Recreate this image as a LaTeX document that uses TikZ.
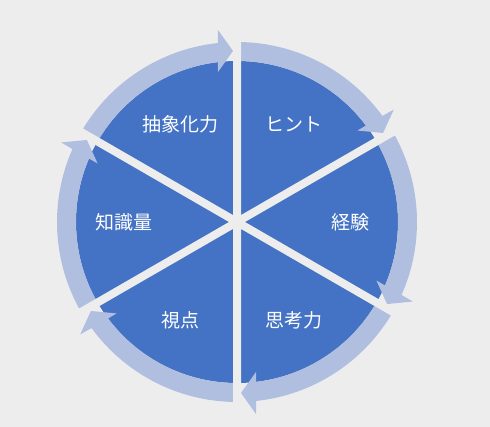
\documentclass[tikz,border=0pt]{standalone}
\usepackage{fontspec}
\usepackage{tikz}
\usetikzlibrary{calc}
\newfontfamily\jpfont{Noto Sans CJK JP}
\definecolor{bgGray}{HTML}{EDEDED}
\definecolor{pieBlue}{HTML}{4472C4}
\definecolor{ringBlue}{HTML}{B0BEDF}

\begin{document}
\begin{tikzpicture} [x=1pt, y=1pt,
    sector/.style = {fill=pieBlue},
    ringarrow/.style = {fill=ringBlue},
    gap/.style = {draw=bgGray, line width=8pt},
    ]
        \tikzset{LabelStyle/.style = {text=white, inner sep=0, font=\jpfont\fontsize{19}{19}\selectfont}}
    \useasboundingbox (-237,-205) rectangle (253,222);
    \fill[bgGray] (-237,-205) rectangle (253,222);

    % pie
    \fill[sector] (0,0) circle (161);

    % ring arrows, clockwise
    \fill[ringarrow] (150:161) arc[start angle=150, end angle=96.8, radius=161]
        -- ($(90:150)+(180:19)$) -- ($(90:171)+(180:4)$) -- ($(90:192)+(180:19)$)
        -- (96.1:180) arc[start angle=96.1, end angle=150, radius=180] -- cycle;
    \fill[ringarrow] (90:161) arc[start angle=90, end angle=36.8, radius=161]
        -- ($(30:150)+(120:19)$) -- ($(30:171)+(120:4)$) -- ($(30:192)+(120:19)$)
        -- (36.1:180) arc[start angle=36.1, end angle=90, radius=180] -- cycle;
    \fill[ringarrow] (30:161) arc[start angle=30, end angle=-23.2, radius=161]
        -- ($(-30:150)+(60:19)$) -- ($(-30:171)+(60:4)$) -- ($(-30:192)+(60:19)$)
        -- (-23.9:180) arc[start angle=-23.9, end angle=30, radius=180] -- cycle;
    \fill[ringarrow] (-30:161) arc[start angle=-30, end angle=-83.2, radius=161]
        -- ($(-90:150)+(0:19)$) -- ($(-90:171)+(0:4)$) -- ($(-90:192)+(0:19)$)
        -- (-83.9:180) arc[start angle=-83.9, end angle=-30, radius=180] -- cycle;
    \fill[ringarrow] (-90:161) arc[start angle=-90, end angle=-143.2, radius=161]
        -- ($(-150:150)+(-60:19)$) -- ($(-150:171)+(-60:4)$) -- ($(-150:192)+(-60:19)$)
        -- (-143.9:180) arc[start angle=-143.9, end angle=-90, radius=180] -- cycle;
    \fill[ringarrow] (210:161) arc[start angle=210, end angle=156.8, radius=161]
        -- ($(150:150)+(240:19)$) -- ($(150:171)+(240:4)$) -- ($(150:192)+(240:19)$)
        -- (156.1:180) arc[start angle=156.1, end angle=210, radius=180] -- cycle;

    % gaps between the slices
    \path[gap]
    (90:200) -- (-90:200)
    (30:200) -- (210:200)
    (150:200) -- (-30:200);

    \node[LabelStyle] at (120:113) (abst) {抽象化力};
    \node[LabelStyle] at (60:113) (hint) {ヒント};
    \node[LabelStyle] at (0:113) (exper) {経験};
    \node[LabelStyle] at (-60:113) (think) {思考力};
    \node[LabelStyle] at (-120:113) (view) {視点};
    \node[LabelStyle] at (180:113) (know) {知識量};

\end{tikzpicture}
\end{document}
